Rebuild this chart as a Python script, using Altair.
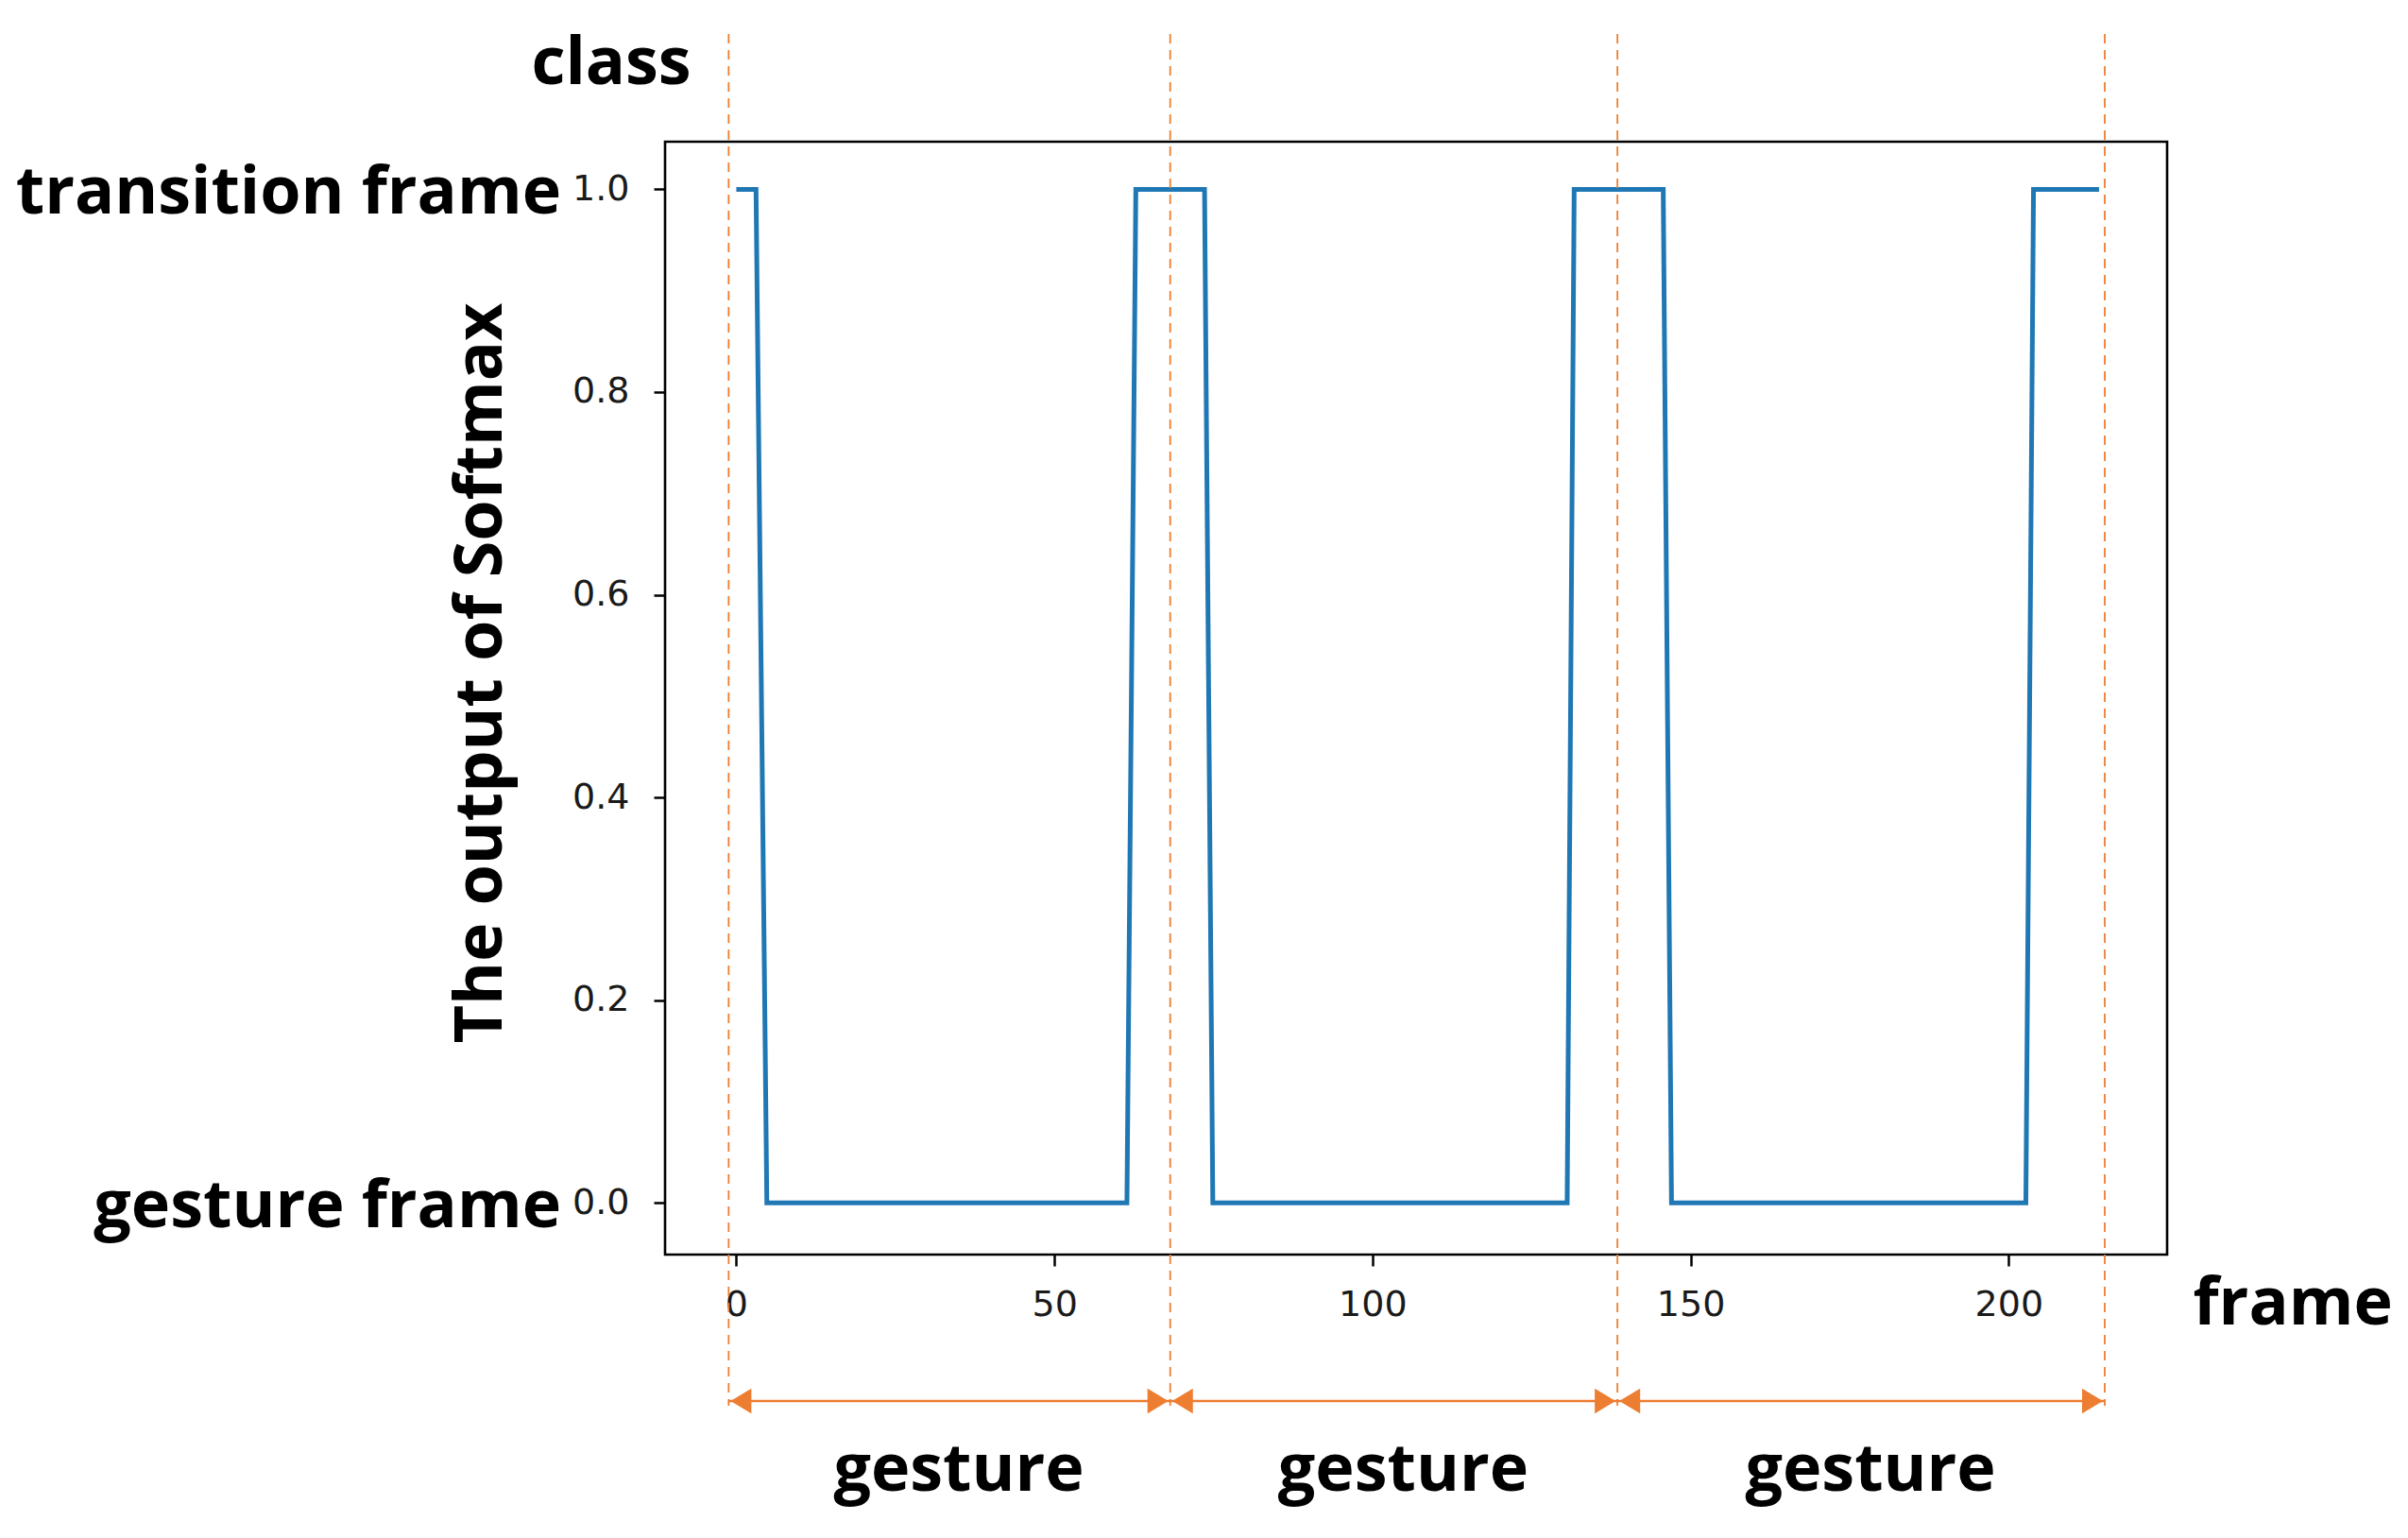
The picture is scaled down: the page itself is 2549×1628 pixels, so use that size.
import altair as alt
import pandas as pd

# ---- data ----
frames = [0, 3.1, 4.8, 61.4, 62.8, 73.6, 74.9, 130.6, 131.7, 145.7, 147.0, 202.7, 203.9, 214.2]
softmax = [1, 1, 0, 0, 1, 1, 0, 0, 1, 1, 0, 0, 1, 1]
boundaries = [-1.2, 68.2, 138.5, 215.1]
segment_labels = ["gesture", "gesture", "gesture"]
class_labels = ["transition frame", "gesture frame"]
class_values = [1.0, 0.0]
x_ticks = [0, 50, 100, 150, 200]
y_ticks = [0.0, 0.2, 0.4, 0.6, 0.8, 1.0]

ORANGE = "#ED7D31"
BLUE = "#1f77b4"
BOLD_FONT = "Open Sans"
TICK_FONT = "DejaVu Sans"
BIG = 70

line_df = pd.DataFrame({"frame": frames, "p": softmax})
bound_df = pd.DataFrame({"frame": boundaries})
seg_df = pd.DataFrame({
    "start": boundaries[:-1],
    "end": boundaries[1:],
    "mid": [(a + b) / 2 for a, b in zip(boundaries[:-1], boundaries[1:])],
    "label": segment_labels,
})
left_heads = pd.DataFrame({"frame": [b + 0.3 for b in boundaries[:-1]]})
right_heads = pd.DataFrame({"frame": [b - 0.3 for b in boundaries[1:]]})
class_df = pd.DataFrame({"label": class_labels, "p": class_values})

xscale = alt.Scale(domain=[-11.2, 224.9], nice=False, zero=False)
yscale = alt.Scale(domain=[-0.051, 1.047], nice=False, zero=False)

xaxis = alt.Axis(
    values=x_ticks, title="frame", grid=False, domain=False,
    labelFont=TICK_FONT, labelFontSize=38, labelColor="#1a1a1a", labelPadding=22,
    tickSize=12, tickWidth=2.5, tickColor="black",
    titleFont=BOLD_FONT, titleFontWeight="bold", titleFontSize=BIG, titleColor="black",
    titleX=1617, titleY=52, titleAlign="left", titleBaseline="middle",
)
yaxis = alt.Axis(
    values=y_ticks, format=".1f", title="The output of Softmax", grid=False, domain=False,
    labelFont=TICK_FONT, labelFontSize=38, labelColor="#1a1a1a", labelPadding=26,
    tickSize=12, tickWidth=2.5, tickColor="black",
    titleFont=BOLD_FONT, titleFontWeight="bold", titleFontSize=BIG, titleColor="black",
    titleX=-195, titleY=562, titleAngle=270, titleAlign="center", titleBaseline="middle",
)

line = alt.Chart(line_df).mark_line(color=BLUE, strokeWidth=5).encode(
    x=alt.X("frame:Q", scale=xscale, axis=xaxis),
    y=alt.Y("p:Q", scale=yscale, axis=yaxis),
)

dashes = alt.Chart(bound_df).mark_rule(color=ORANGE, strokeWidth=1.8, strokeDash=[10, 7]).encode(
    x="frame:Q",
    y=alt.value(-114),
    y2=alt.value(1338),
)

arrows = alt.Chart(seg_df).mark_rule(color=ORANGE, strokeWidth=2.5).encode(
    x="start:Q",
    x2="end:Q",
    y=alt.value(1333),
)

lh = alt.Chart(left_heads).mark_point(
    shape="M0,0L1,-0.6L1,0.6Z", filled=True, color=ORANGE, opacity=1, size=1936
).encode(x="frame:Q", y=alt.value(1333))

rh = alt.Chart(right_heads).mark_point(
    shape="M0,0L-1,-0.6L-1,0.6Z", filled=True, color=ORANGE, opacity=1, size=1936
).encode(x="frame:Q", y=alt.value(1333))

seg_text = alt.Chart(seg_df).mark_text(
    font=BOLD_FONT, fontWeight="bold", fontSize=BIG, color="black", baseline="middle",
    align="center", dx=10
).encode(x="mid:Q", y=alt.value(1407), text="label:N")

class_text = alt.Chart(class_df).mark_text(
    font=BOLD_FONT, fontWeight="bold", fontSize=BIG, color="black", baseline="middle", align="right", dy=5
).encode(x=alt.value(-110), y="p:Q", text="label:N")

class_title = alt.Chart(pd.DataFrame({"t": ["class"]})).mark_text(
    font=BOLD_FONT, fontWeight="bold", fontSize=BIG, color="black", baseline="middle", align="center"
).encode(x=alt.value(-57), y=alt.value(-82), text="t:N")

chart = alt.layer(line, dashes, arrows, lh, rh, seg_text, class_text, class_title).properties(
    width=1590,
    height=1178,
    padding={"left": 696, "top": 142, "right": 244, "bottom": 290},
    autosize=alt.AutoSizeParams(type="none"),
    background="white",
).configure_view(stroke="black", strokeWidth=2.6)

chart.save("out.html", embed_options={"renderer": "svg", "actions": False})
